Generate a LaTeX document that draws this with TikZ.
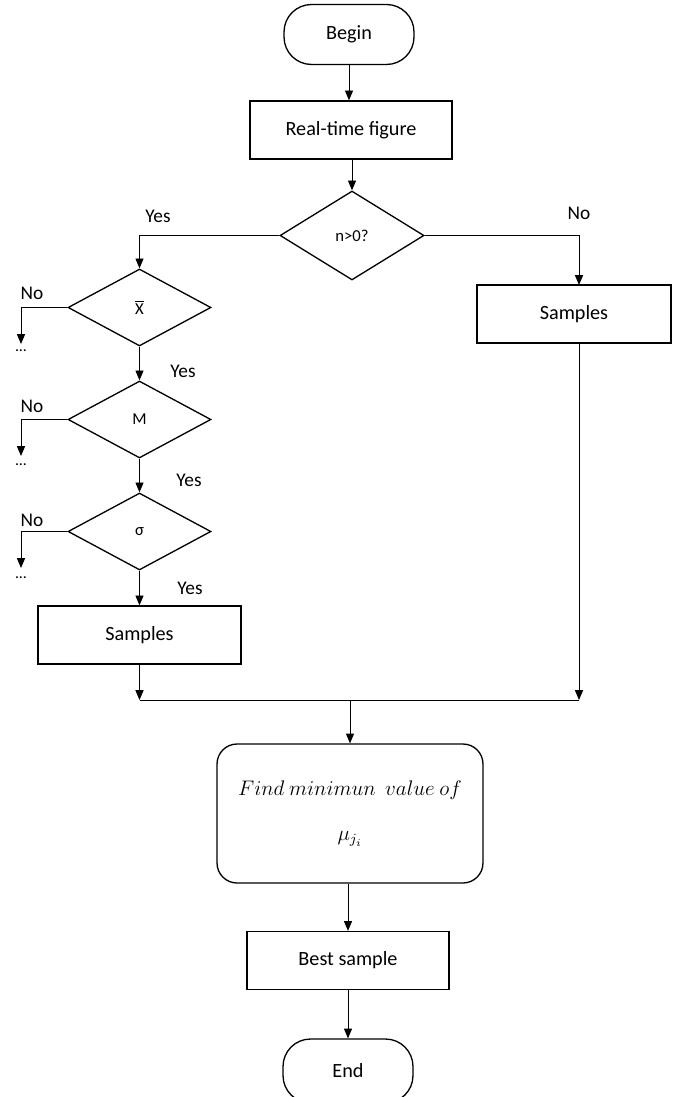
\documentclass[tikz,border=0pt]{standalone}
\usepackage{fontspec}
\setmainfont{Carlito}
\usetikzlibrary{shapes.geometric,arrows.meta}

\tikzset{
  box/.style={draw, line width=0.75pt, inner sep=0pt, minimum width=4.04cm, minimum height=1.16cm, font=\fontsize{11.5}{13}\selectfont},
  term/.style={box, rounded corners=0.55cm, minimum width=2.6cm, minimum height=1.2cm},
  test/.style={draw, diamond, line width=0.75pt, inner sep=0pt, minimum width=2.88cm, minimum height=1.78cm, font=\fontsize{9.5}{11}\selectfont},
  smalltest/.style={test, minimum width=2.86cm, minimum height=1.54cm},
  arr/.style={line width=0.55pt, -{Triangle[width=4.6pt,length=5.6pt]}},
  link/.style={line width=0.55pt},
  lbl/.style={inner sep=0pt, font=\fontsize{11}{13}\selectfont},
  dots/.style={inner sep=0pt, font=\fontsize{9}{10}\selectfont},
}

\begin{document}
\begin{tikzpicture}[x=0.02cm,y=-0.02cm]
\useasboundingbox (0,0) rectangle (672,1097);

% main column
\node[term] (begin) at (349,34.5) {Begin};
\node[box] (realtime) at (351,130) {Real-time figure};
\node[test] (cond) at (352,235.5) {n>0?};

% left column
\node[smalltest] (xbar)  at (139.5,307.5) {$\overline{\mbox{X}}$};
\node[smalltest] (mean)  at (139.5,419.5) {M};
\node[smalltest] (sigma) at (139.5,531.5) {σ};
\node[box, minimum width=4.06cm] (samplesL) at (139.5,635) {Samples};

% right column
\node[box, minimum width=3.88cm] (samplesR) at (574,314) {Samples};

% bottom
\node[box, rounded corners=0.4cm, minimum width=5.32cm, minimum height=2.78cm, align=center, font=\fontsize{12}{14}\selectfont] (find) at (350,813.5) {$Find\ minimun\ \ value\ of$\\[12pt]$\mu_{j_i}$};
\node[box] (best) at (348,960.5) {Best sample};
\node[term, minimum height=1.28cm] (end) at (348,1071) {End};

\coordinate (noR) at (579,285);
\coordinate (mergeL) at (139.5,700);
\coordinate (mergeM) at (350,700);
\coordinate (mergeR) at (579,700);
\coordinate (stopX) at (21,344);
\coordinate (stopM) at (21,456);
\coordinate (stopS) at (21,568);

\draw[arr] (begin.south) -- (begin.south |- realtime.north);
\draw[arr] (cond.north |- realtime.south) -- (cond.north);
\draw[arr] (cond.west) -| (xbar.north);
\draw[arr] (cond.east) -| (noR);
\draw[arr] (xbar.south) -- (mean.north);
\draw[arr] (mean.south) -- (sigma.north);
\draw[arr] (sigma.south) -- (samplesL.north);
\draw[arr] (xbar.west) -| (stopX);
\draw[arr] (mean.west) -| (stopM);
\draw[arr] (sigma.west) -| (stopS);
\draw[arr] (samplesL.south) -- (mergeL);
\draw[arr] (noR |- samplesR.south) -- (mergeR);
\draw[link] (mergeL) -- (mergeR);
\draw[arr] (mergeM) -- (find.north -| mergeM);
\draw[arr] (best.north |- find.south) -- (best.north);
\draw[arr] (best.south) -- (end.north);

\node[lbl] (yes0) at (158,216) {Yes};
\node[lbl] (no0)  at (579,213) {No};
\node[lbl] (yes1) at (183,371) {Yes};
\node[lbl] (yes2) at (189,480) {Yes};
\node[lbl] (yes3) at (190,588) {Yes};
\node[lbl] (no1)  at (32,293) {No};
\node[lbl] (no2)  at (32,406) {No};
\node[lbl] (no3)  at (32,520) {No};

\node[dots] (dots1) at (21,351) {...};
\node[dots] (dots2) at (21,465) {...};
\node[dots] (dots3) at (21,578) {...};

\end{tikzpicture}
\end{document}
